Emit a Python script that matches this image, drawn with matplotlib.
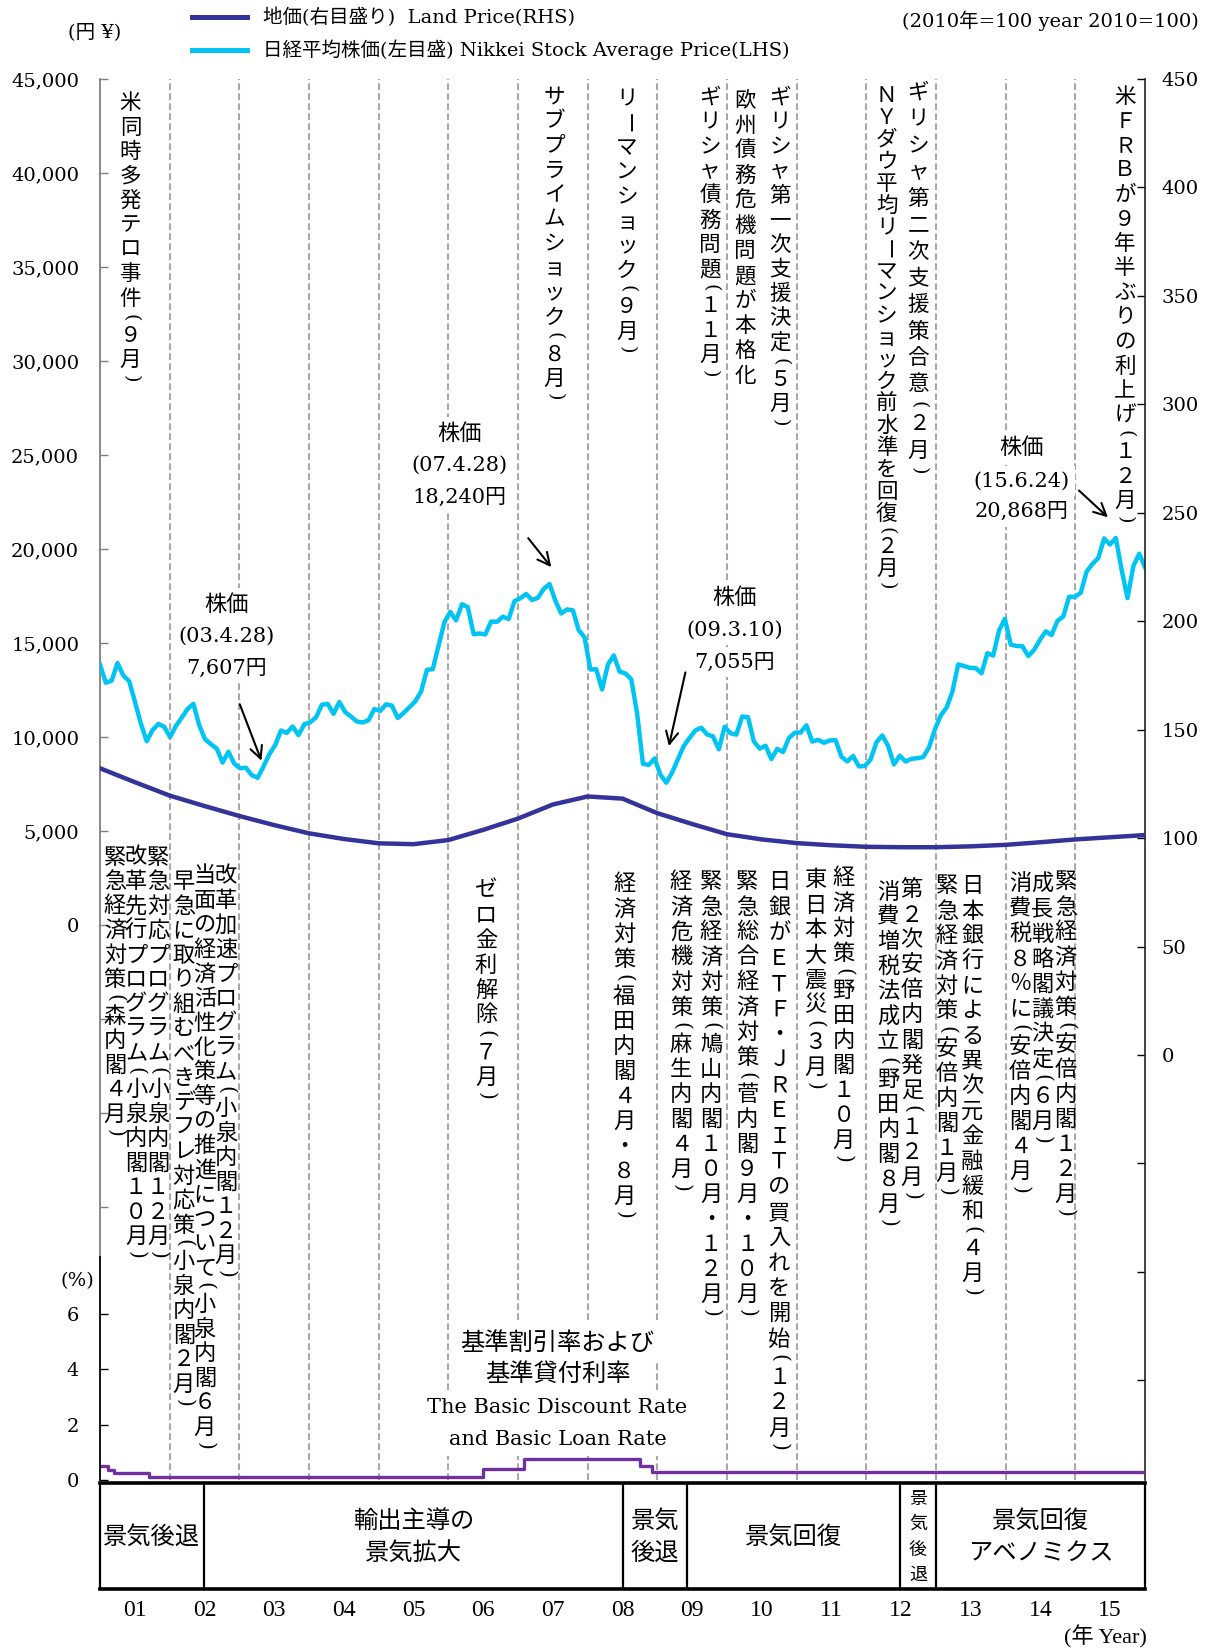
import numpy as np
import matplotlib.pyplot as plt
from matplotlib.lines import Line2D

plt.rcParams['font.family'] = ['DejaVu Serif', 'Noto Sans CJK JP']

# 日経平均株価 月末終値 2001年1月〜2015年12月 (円)
nikkei = [13843, 12883, 13000, 13934, 13262, 12969, 11861, 10714, 9775, 10366, 10697, 10543,
          9998, 10588, 11025, 11493, 11764, 10622, 9878, 9619, 9383, 8640, 9216, 8579,
          8340, 8363, 7973, 7831, 8425, 9083, 9563, 10344, 10219, 10560, 10101, 10677,
          10784, 11042, 11715, 11762, 11236, 11859, 11326, 11082, 10824, 10771, 10899, 11489,
          11388, 11741, 11669, 11009, 11277, 11584, 11900, 12414, 13574, 13607, 14872, 16111,
          16650, 16205, 17060, 16906, 15467, 15505, 15457, 16141, 16128, 16399, 16274, 17226,
          17383, 17604, 17288, 17400, 17876, 18138, 17249, 16569, 16786, 16738, 15681, 15308,
          13592, 13603, 12526, 13850, 14339, 13481, 13377, 13073, 11260, 8577, 8512, 8860,
          7994, 7568, 8110, 8828, 9523, 9958, 10357, 10493, 10133, 10035, 9346, 10546,
          10198, 10126, 11090, 11057, 9769, 9383, 9537, 8824, 9369, 9202, 9937, 10229,
          10238, 10624, 9755, 9850, 9694, 9816, 9833, 8955, 8700, 8988, 8435, 8455,
          8803, 9723, 10084, 9521, 8543, 9007, 8695, 8840, 8870, 8928, 9446, 10395,
          11139, 11559, 12398, 13861, 13775, 13677, 13668, 13389, 14456, 14328, 15662, 16291,
          14915, 14841, 14828, 14304, 14632, 15162, 15621, 15425, 16174, 16414, 17460, 17451,
          17674, 18798, 19207, 19520, 20563, 20236, 20585, 18890, 17388, 19083, 19747, 19034]

# 地価 (2010年=100) 半年ごと
land_t = [2001.0, 2001.5, 2002.0, 2002.5, 2003.0, 2003.5, 2004.0, 2004.5, 2005.0, 2005.5,
          2006.0, 2006.5, 2007.0, 2007.5, 2008.0, 2008.5, 2009.0, 2009.5, 2010.0, 2010.5,
          2011.0, 2011.5, 2012.0, 2012.5, 2013.0, 2013.5, 2014.0, 2014.5, 2015.0, 2015.5, 2016.0]
land = [132.2, 125.8, 119.6, 114.8, 110.2, 106.0, 102.2, 99.6, 97.6, 97.2,
        99.1, 103.8, 109.0, 115.5, 119.2, 118.2, 111.5, 106.5, 101.8, 99.4,
        97.7, 96.7, 96.0, 95.8, 95.8, 96.2, 96.9, 98.1, 99.4, 100.4, 101.4]

# 基準割引率および基準貸付利率 (%)
rate_t = [2001.0, 2001.12, 2001.2, 2001.7, 2006.5, 2007.08, 2008.75, 2008.93, 2016.0]
rate = [0.50, 0.35, 0.25, 0.10, 0.40, 0.75, 0.50, 0.30, 0.30]

# 景気の局面
cycle_edges = [2001.0, 2002.49, 2008.51, 2009.42, 2012.48, 2013.0, 2016.0]
cycle_labels = ['景気後退', '輸出主導の\n景気拡大', '景気\n後退', '景気回復',
                '景\n気\n後\n退', '景気回復\nアベノミクス']

years = list(range(2001, 2016))
year_labels = ['%02d' % (y % 100) for y in years]

left_ticks = list(range(-15000, 45001, 5000))
right_ticks = list(range(-150, 451, 50))
pct_ticks = [0, 2, 4, 6]

# 出来事 (縦書き)
upper_notes = [
    ('米同時多発テロ事件（９月）', 130.5, 103, 24.5),
    ('サブプライムショック（８月）', 554.4, 97, 24.5),
    ('リーマンショック（９月）', 627, 99, 24.5),
    ('ギリシャ債務問題（１１月）', 710, 98, 24.5),
    ('欧州債務危機問題が本格化', 745, 101, 25),
    ('ギリシャ第一次支援決定（５月）', 780, 98, 24.5),
    ('ＮＹダウ平均リーマンショック前水準を回復（２月）', 886.7, 96, 22),
    ('ギリシャ第二次支援策合意（２月）', 918.3, 93, 26.5),
    ('米ＦＲＢが９年半ぶりの利上げ（１２月）', 1125, 97, 24.5),
]
lower_notes = [
    ('緊急経済対策（森内閣４月）', 114.9, 857, 24.5),
    ('改革先行プログラム（小泉内閣１０月）', 136, 857, 24.5),
    ('緊急対応プログラム（小泉内閣１２月）', 158, 857, 24.5),
    ('早急に取り組むべきデフレ対応策（小泉内閣２月）', 183.8, 882, 24.5),
    ('当面の経済活性化策等の推進について（小泉内閣６月）', 204.8, 876, 24.5),
    ('改革加速プログラム（小泉内閣１２月）', 225.9, 876, 24.5),
    ('ゼロ金利解除（７月）', 486, 890, 25),
    ('経済対策（福田内閣４月・８月）', 624.2, 884, 25),
    ('経済危機対策（麻生内閣４月）', 681, 882, 25),
    ('緊急経済対策（鳩山内閣１０月・１２月）', 711, 882, 25),
    ('緊急総合経済対策（菅内閣９月・１０月）', 747.3, 882, 25),
    ('日銀がＥＴＦ・ＪＲＥＩＴの買入れを開始（１２月）', 779.3, 882, 25.4),
    ('東日本大震災（３月）', 815.5, 880, 25),
    ('経済対策（野田内閣１０月）', 843.6, 878, 25),
    ('消費増税法成立（野田内閣８月）', 888.4, 892, 25),
    ('第２次安倍内閣発足（１２月）', 911.8, 890, 25),
    ('緊急経済対策（安倍内閣１月）', 946.8, 886, 25),
    ('日本銀行による異次元金融緩和（４月）', 972.2, 886, 25),
    ('消費税８％に（安倍内閣４月）', 1020, 884, 25),
    ('成長戦略閣議決定（６月）', 1042.3, 884, 25),
    ('緊急経済対策（安倍内閣１２月）', 1065.7, 882, 25),
]
# 株価注記: 文字列, x, 各行のy, 矢印(始点, 終点)
price_notes = [
    (['株価', '(03.4.28)', '7,607円'], 226.5, [605, 636, 668], (238.8, 701.7), (262.4, 763.3)),
    (['株価', '(07.4.28)', '18,240円'], 459.5, [433.5, 465, 497.6], (526.5, 536), (553, 569.3)),
    (['株価', '(09.3.10)', '7,055円'], 735, [598, 630, 662], (686, 669.7), (668.3, 748.8)),
    (['株価', '(15.6.24)', '20,868円'], 1021.5, [448.4, 481, 511.6], (1076.9, 488.6), (1110, 519.2)),
]

navy = '#333399'
cyan = '#00c4f4'
purple = '#7030a0'
grid_c = '#a8a8a8'

W, H = 1211, 1650
fig = plt.figure(figsize=(W / 100, H / 100), dpi=100)


def ft(xp, yp, s, **kw):
    return fig.text(xp / W, 1 - yp / H, s, **kw)


def vtext(s, x, y0, pitch, size=15.5):
    top = y0 - pitch / 2
    for ch in s:
        h = pitch * 0.5 if ch in '（）' else pitch
        yc = top + h / 2
        if ch in '（）':
            ft(x, yc, '(' if ch == '（' else ')', rotation=-90, ha='center', va='center',
               fontsize=size * 0.9, family='DejaVu Serif')
        elif ch == 'ー':
            ft(x, yc, ch, rotation=-90, ha='center', va='center', fontsize=size,
               family='Noto Sans CJK JP')
        else:
            ft(x, yc, ch, ha='center', va='center', fontsize=size, family='Noto Sans CJK JP')
        top += h


x0, x1 = 100, 1145
top_px, zero_px, bot_px = 79, 925, 1480
pct_top, pct_six = 1257, 1314
box_top, box_bot = 1483, 1589

ax = fig.add_axes([x0 / W, 1 - bot_px / H, (x1 - x0) / W, (bot_px - top_px) / H])
ax.set_xlim(2001, 2016)
ax.set_ylim(-45000 * (bot_px - zero_px) / (zero_px - top_px), 45000)
ax2 = ax.twinx()
r0 = 1055
ax2.set_ylim(-450 * (bot_px - r0) / (r0 - top_px), 450)

for yr in range(2002, 2016):
    ax.axvline(yr, color=grid_c, lw=1.5, ls=(0, (3.2, 1.6)), zorder=0)

xm = np.linspace(2001, 2016, len(nikkei))
ax.plot(xm, nikkei, color=cyan, lw=3.2, zorder=3)
ax2.plot(land_t, land, color=navy, lw=3.2, zorder=3)

for s in ['top', 'bottom', 'right']:
    ax.spines[s].set_visible(False)
for s in ['top', 'bottom', 'left']:
    ax2.spines[s].set_visible(False)
ax.spines['left'].set_color('#7f7f7f')
ax.spines['left'].set_linewidth(1.3)
ax.spines['left'].set_bounds(-45000 * (pct_top - zero_px) / (zero_px - top_px), 45000)
ax2.spines['right'].set_color('#222222')
ax2.spines['right'].set_linewidth(1.2)

ax.set_xticks([])
ax.set_yticks(left_ticks)
ax.set_yticklabels(['' if v < 0 else f'{v:,}' for v in left_ticks], fontsize=14)
ax.tick_params(axis='y', direction='in', length=6, width=1, color='#7f7f7f', pad=15)
ax2.set_yticks(right_ticks)
ax2.set_yticklabels(['' if v < 0 else str(v) for v in right_ticks], fontsize=14)
ax2.tick_params(axis='y', direction='in', length=6, width=1, pad=12)

# 金利パネル
ax3 = fig.add_axes([x0 / W, 1 - bot_px / H, (x1 - x0) / W, (bot_px - pct_top) / H])
ax3.patch.set_visible(False)
ax3.set_xlim(2001, 2016)
ax3.set_ylim(0, 6 * (bot_px - pct_top) / (bot_px - pct_six))
ax3.step(rate_t, rate, where='post', color=purple, lw=2.4)
for s in ['top', 'bottom', 'right']:
    ax3.spines[s].set_visible(False)
ax3.spines['left'].set_linewidth(1.3)
ax3.set_xticks([])
ax3.set_yticks(pct_ticks)
ax3.set_yticklabels([str(v) for v in pct_ticks], fontsize=14)
ax3.tick_params(axis='y', direction='in', length=6, width=1, pad=15)

# 景気局面の帯
ax4 = fig.add_axes([x0 / W, 1 - box_bot / H, (x1 - x0) / W, (box_bot - box_top) / H])
ax4.set_xlim(2001, 2016)
ax4.set_ylim(0, 1)
for s in ['top', 'bottom']:
    ax4.spines[s].set_linewidth(2.6)
for s in ['left', 'right']:
    ax4.spines[s].set_linewidth(1.6)
for e in cycle_edges[1:-1]:
    ax4.axvline(e, color='k', lw=1.6)
ax4.set_yticks([])
ax4.set_xticks(np.array(years) + 0.5)
ax4.set_xticklabels(year_labels, fontsize=17, family='Liberation Serif')
ax4.tick_params(axis='x', length=0, pad=8)

pxy = (x1 - x0) / 15.0
for i, lab in enumerate(cycle_labels):
    cx = x0 + ((cycle_edges[i] + cycle_edges[i + 1]) / 2 - 2001) * pxy
    lines = lab.split('\n')
    n = len(lines)
    if n == 4:
        pitch, fs = 25.4, 13
    else:
        pitch, fs = 32, 17.5
    for k, ln in enumerate(lines):
        ft(cx, 1537 + (k - (n - 1) / 2) * pitch, ln, ha='center', va='center',
           fontsize=fs, family='Noto Sans CJK JP')

# 縦書きの出来事
for s, x, y, p in upper_notes:
    vtext(s, x, y, p)
for s, x, y, p in lower_notes:
    vtext(s, x, y, p, size=16)

# 株価の注記と矢印
for lines, cx, ys, a0, a1 in price_notes:
    for k, (ln, yy) in enumerate(zip(lines, ys)):
        ft(cx, yy, ln, ha='center', va='center', fontsize=16 if k == 0 else 15,
           bbox=dict(facecolor='white', edgecolor='none', pad=4))
    ax.annotate('', xy=(a1[0], H - a1[1]), xytext=(a0[0], H - a0[1]),
                xycoords='figure pixels', textcoords='figure pixels',
                arrowprops=dict(arrowstyle='->', lw=1.5, color='k', mutation_scale=22))

# 金利の説明
for ln, yy in zip(['基準割引率および', '基準貸付利率'], [1342.5, 1374]):
    ft(557.6, yy, ln, ha='center', va='center', fontsize=17.5, family='Noto Sans CJK JP',
       bbox=dict(facecolor='white', edgecolor='none', pad=5))
for ln, yy in zip(['The Basic Discount Rate', 'and Basic Loan Rate'], [1407.7, 1439.3]):
    ft(557.6, yy, ln, ha='center', va='center', fontsize=15,
       bbox=dict(facecolor='white', edgecolor='none', pad=5))

# 凡例と単位
fig.add_artist(Line2D([192 / W, 247 / W], [1 - 17 / H] * 2, color=navy, lw=3.6))
fig.add_artist(Line2D([192 / W, 247 / W], [1 - 49.5 / H] * 2, color=cyan, lw=3.6))
ft(263, 17, '地価(右目盛り)  Land Price(RHS)', ha='left', va='center', fontsize=14)
ft(263, 49.5, '日経平均株価(左目盛) Nikkei Stock Average Price(LHS)', ha='left', va='center',
   fontsize=14)
ft(95, 32, '(円 ¥)', ha='center', va='center', fontsize=14)
ft(1199, 21, '(2010年=100 year 2010=100)', ha='right', va='center', fontsize=14)
ft(77, 1281, '(%)', ha='center', va='center', fontsize=14)
ft(1105, 1637, '(年 Year)', ha='center', va='center', fontsize=16, family=['Liberation Serif', 'Noto Sans CJK JP'])

fig.savefig('out.png', dpi=100)
